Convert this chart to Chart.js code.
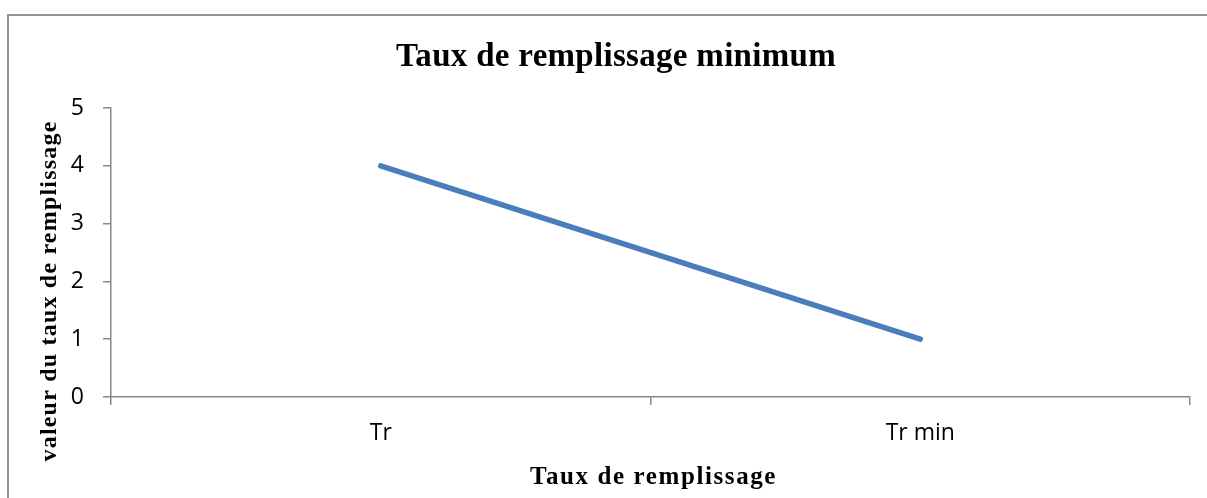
<!DOCTYPE html>
<html lang="fr">
<head>
<meta charset="utf-8">
<title>Taux de remplissage minimum</title>
<script src="https://cdn.jsdelivr.net/npm/chart.js@4/dist/chart.umd.min.js"></script>
<style>
  html, body { margin: 0; padding: 0; background: #ffffff; overflow: hidden; }
  #wrap { width: 1207px; height: 498px; position: relative; }
</style>
</head>
<body>
<div id="wrap"><canvas id="chart" width="1207" height="498"></canvas></div>
<script>
// Données du graphique
const categories = ['Tr', 'Tr min'];
const tauxValues = [4, 1];
const yMin = 0;
const yMax = 5;
const yStep = 1;

// Textes
const chartTitle = 'Taux de remplissage minimum';
const xAxisTitle = 'Taux de remplissage';
const yAxisTitle = 'valeur du taux de remplissage';

const axisGray = '#878787';
const serif = '"Liberation Serif", "Times New Roman", serif';
const sans = '"Open Sans", sans-serif';

// Cadre extérieur et titres (avec espacement des lettres)
const frameAndTitles = {
  id: 'frameAndTitles',
  beforeDraw(chart) {
    const ctx = chart.ctx;
    ctx.save();
    ctx.fillStyle = '#ffffff';
    ctx.fillRect(0, 0, chart.width, chart.height);
    ctx.strokeStyle = '#959595';
    ctx.lineWidth = 2;
    ctx.beginPath();
    ctx.moveTo(8, chart.height + 5);
    ctx.lineTo(8, 15);
    ctx.lineTo(chart.width + 5, 15);
    ctx.stroke();
    ctx.restore();
  },
  afterDraw(chart) {
    const ctx = chart.ctx;
    const area = chart.chartArea;
    ctx.save();
    ctx.fillStyle = '#000000';
    ctx.textAlign = 'center';
    ctx.textBaseline = 'alphabetic';

    // Titre principal
    ctx.font = 'bold 33px ' + serif;
    ctx.letterSpacing = '0.3px';
    ctx.fillText(chartTitle, 616, 66);

    // Titre de l'axe horizontal
    ctx.font = 'bold 25px ' + serif;
    ctx.letterSpacing = '1.6px';
    ctx.fillText(xAxisTitle, (area.left + area.right) / 2 + 3, 484);

    // Titre de l'axe vertical
    ctx.font = 'bold 24px ' + serif;
    ctx.letterSpacing = '1.2px';
    ctx.translate(56, 291);
    ctx.rotate(-Math.PI / 2);
    ctx.fillText(yAxisTitle, 0, 0);
    ctx.restore();
  }
};

new Chart(document.getElementById('chart'), {
  type: 'line',
  data: {
    labels: categories,
    datasets: [{
      label: 'Taux',
      data: tauxValues,
      borderColor: '#4a7ebb',
      backgroundColor: '#4a7ebb',
      borderWidth: 5.5,
      borderCapStyle: 'round',
      pointRadius: 0,
      pointHoverRadius: 0,
      tension: 0,
      fill: false
    }]
  },
  options: {
    responsive: false,
    animation: false,
    events: [],
    layout: { padding: { top: 108, right: 17, bottom: 0, left: 0 } },
    plugins: {
      legend: { display: false },
      title: { display: false },
      tooltip: { enabled: false }
    },
    scales: {
      x: {
        type: 'category',
        offset: true,
        grid: {
          offset: true,
          drawOnChartArea: false,
          drawTicks: true,
          tickLength: 8,
          color: axisGray,
          lineWidth: 1.5
        },
        border: { display: true, color: axisGray, width: 1.5 },
        ticks: {
          color: '#000000',
          font: { family: sans, size: 23 },
          padding: 15,
          maxRotation: 0
        },
        afterFit(scale) { scale.height = 101; }
      },
      y: {
        min: yMin,
        max: yMax,
        grid: {
          drawOnChartArea: false,
          drawTicks: true,
          tickLength: 8,
          color: axisGray,
          lineWidth: 1.5
        },
        border: { display: true, color: axisGray, width: 1.5 },
        ticks: {
          stepSize: yStep,
          color: '#000000',
          font: { family: sans, size: 23 },
          padding: 19
        },
        afterFit(scale) { scale.width = 111; }
      }
    }
  },
  plugins: [frameAndTitles]
});
</script>
</body>
</html>
